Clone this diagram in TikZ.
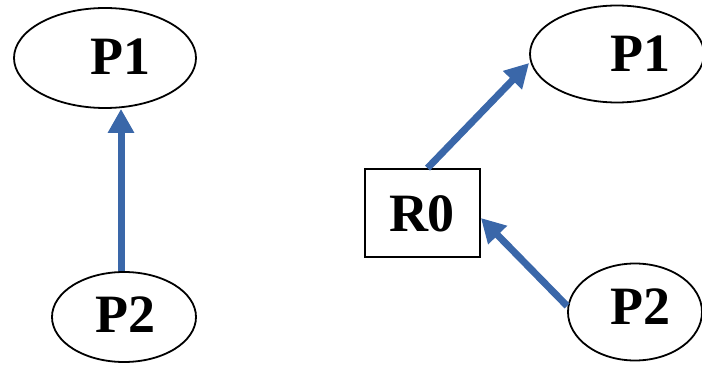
\documentclass[tikz,border=0pt]{standalone}
\usepackage{fontspec}
\setmainfont{Liberation Serif}
\usetikzlibrary{shapes.geometric,arrows.meta}
\definecolor{linkblue}{RGB}{58,103,169}
\tikzset{
  proc/.style={draw=black,line width=1.8pt,ellipse,inner sep=0pt},
  relay/.style={draw=black,line width=1.8pt,rectangle,inner sep=0pt},
  tag/.style={font=\fontsize{54}{54}\selectfont\bfseries,inner sep=0pt,anchor=base},
  link/.style={draw=linkblue,line width=7pt,-{Triangle[width=25pt,length=24pt]}}
}
\begin{document}
\begin{tikzpicture}[x=1pt,y=-1pt]
\useasboundingbox (0,0) rectangle (702,366);
% left pair
\node[proc,minimum width=182pt,minimum height=100pt] (p1a) at (105,58) {};
\node[proc,minimum width=144pt,minimum height=90pt] (p2a) at (124,317) {};
\node[tag] (t1a) at (120,75) {P1};
\node[tag] (t2a) at (125,332) {P2};
% right group with relay
\node[relay,minimum width=115pt,minimum height=88pt] (r0) at (422.5,213) {};
\node[tag] (tr0) at (422,232) {R0};
\node[proc,minimum width=174pt,minimum height=97pt] (p1b) at (617,54) {};
\node[proc,minimum width=134pt,minimum height=97pt] (p2b) at (635,312) {};
\node[tag] (t1b) at (640,72) {P1};
\node[tag] (t2b) at (640,325) {P2};
% connectors
\draw[link] ([xshift=-3pt]p2a.north) -- ([xshift=-3pt]p2a.north |- p1a.south);
\draw[link] ([xshift=5pt]r0.north) -- ([yshift=-9pt]p1b.west);
\draw[link] ([yshift=6pt]p2b.west) -- ([yshift=-5pt]r0.east);
\end{tikzpicture}
\end{document}
